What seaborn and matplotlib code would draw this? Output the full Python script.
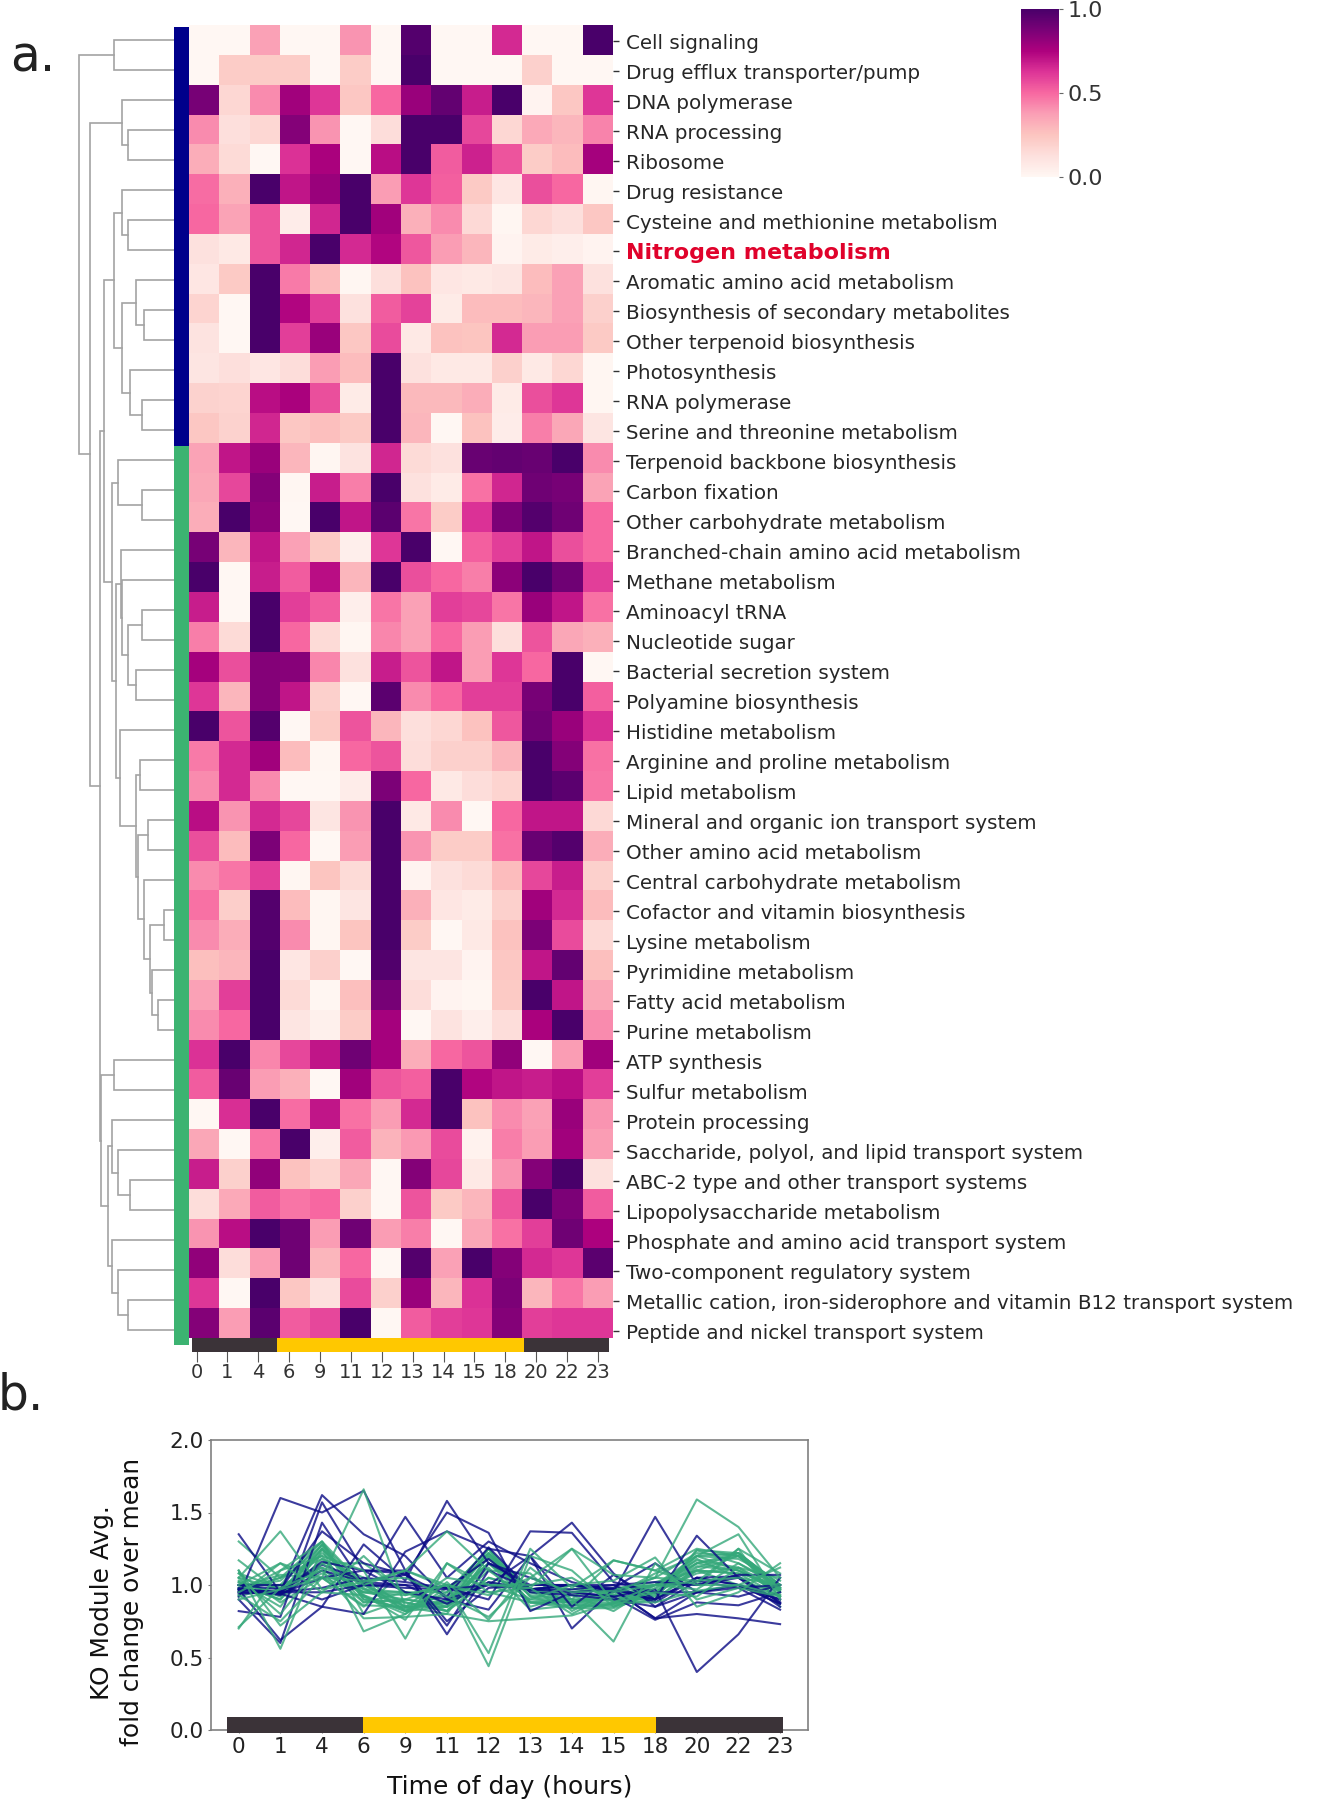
import numpy as np
import pandas as pd
import matplotlib
matplotlib.use("Agg")
import matplotlib.pyplot as plt
import seaborn as sns

# --- data ---
hours = ["0", "1", "4", "6", "9", "11", "12", "13", "14", "15", "18", "20", "22", "23"]

blue_modules = ["Cell signaling", "Drug efflux transporter/pump", "DNA polymerase", "RNA processing",
                "Ribosome", "Drug resistance", "Cysteine and methionine metabolism", "Nitrogen metabolism",
                "Aromatic amino acid metabolism", "Biosynthesis of secondary metabolites",
                "Other terpenoid biosynthesis", "Photosynthesis", "RNA polymerase",
                "Serine and threonine metabolism"]
green_modules = ["Terpenoid backbone biosynthesis", "Carbon fixation", "Other carbohydrate metabolism",
                 "Branched-chain amino acid metabolism", "Methane metabolism", "Aminoacyl tRNA",
                 "Nucleotide sugar", "Bacterial secretion system", "Polyamine biosynthesis",
                 "Histidine metabolism", "Arginine and proline metabolism", "Lipid metabolism",
                 "Mineral and organic ion transport system", "Other amino acid metabolism",
                 "Central carbohydrate metabolism", "Cofactor and vitamin biosynthesis", "Lysine metabolism",
                 "Pyrimidine metabolism", "Fatty acid metabolism", "Purine metabolism", "ATP synthesis",
                 "Sulfur metabolism", "Protein processing", "Saccharide, polyol, and lipid transport system",
                 "ABC-2 type and other transport systems", "Lipopolysaccharide metabolism",
                 "Phosphate and amino acid transport system", "Two-component regulatory system",
                 "Metallic cation, iron-siderophore and vitamin B12 transport system",
                 "Peptide and nickel transport system"]

heat_blue = [
    [0, 0, .37, 0, 0, .40, 0, .97, 0, 0, .65, 0, 0, 1],
    [0, .22, .22, .22, 0, .22, 0, 1, 0, 0, 0, .20, 0, 0],
    [.88, .17, .42, .78, .62, .24, .50, .80, .93, .68, 1, .02, .24, .62],
    [.42, .13, .17, .85, .40, 0, .14, 1, 1, .58, .17, .34, .30, .44],
    [.33, .15, 0, .63, .76, 0, .72, 1, .53, .67, .55, .22, .28, .77],
    [.49, .32, 1, .70, .80, 1, .38, .62, .52, .23, .09, .56, .50, .01],
    [.50, .36, .55, .06, .66, 1, .78, .32, .42, .16, .01, .17, .13, .24],
    [.12, .08, .55, .66, 1, .65, .74, .54, .38, .30, .02, .07, .05, .02],
    [.09, .23, 1, .46, .28, .01, .13, .26, .09, .08, .10, .28, .37, .12],
    [.18, 0, 1, .74, .60, .12, .53, .59, .07, .28, .28, .30, .37, .20],
    [.11, 0, 1, .60, .80, .24, .57, .08, .26, .25, .65, .38, .38, .23],
    [.10, .13, .09, .14, .38, .28, 1, .12, .08, .08, .20, .08, .17, .01],
    [.19, .18, .72, .76, .56, .07, 1, .29, .29, .33, .07, .56, .62, .01],
    [.24, .19, .66, .24, .27, .23, 1, .30, 0, .26, .06, .45, .35, .10],
]
heat_green = [
    [.36, .70, .80, .30, .01, .11, .66, .15, .12, .92, .93, .92, 1, .42],
    [.35, .58, .85, .01, .68, .45, 1, .12, .07, .48, .66, .90, .88, .36],
    [.33, 1, .83, 0, 1, .70, .95, .47, .22, .63, .87, .97, .90, .50],
    [.88, .30, .70, .37, .23, .05, .62, 1, 0, .52, .60, .70, .56, .50],
    [1, 0, .68, .53, .72, .30, 1, .56, .50, .45, .83, 1, .90, .60],
    [.68, 0, 1, .60, .53, .05, .47, .37, .60, .58, .47, .80, .70, .48],
    [.45, .15, 1, .50, .15, .01, .43, .37, .50, .38, .13, .55, .35, .32],
    [.77, .56, .85, .84, .43, .12, .68, .55, .70, .38, .62, .50, 1, 0],
    [.62, .30, .85, .70, .20, 0, .95, .42, .50, .60, .60, .88, 1, .52],
    [1, .55, .97, 0, .23, .55, .30, .13, .17, .26, .54, .90, .80, .64],
    [.46, .65, .78, .28, .01, .50, .55, .14, .20, .20, .30, 1, .85, .48],
    [.42, .65, .42, 0, 0, .06, .87, .50, .08, .14, .18, 1, .95, .47],
    [.72, .40, .65, .58, .10, .40, 1, .08, .42, 0, .50, .70, .70, .16],
    [.56, .28, .87, .50, 0, .38, 1, .40, .22, .22, .48, .92, .97, .33],
    [.42, .47, .60, .01, .25, .15, 1, .02, .12, .15, .28, .58, .68, .20],
    [.48, .21, .97, .28, .01, .10, 1, .32, .09, .07, .20, .78, .65, .28],
    [.42, .33, .97, .42, .01, .25, 1, .22, 0, .08, .26, .87, .57, .16],
    [.27, .30, 1, .09, .20, 0, .98, .10, .10, .02, .24, .70, .93, .27],
    [.37, .60, 1, .15, .01, .27, .88, .14, .02, .01, .23, 1, .70, .35],
    [.42, .50, 1, .10, .04, .22, .77, 0, .11, .05, .14, .76, 1, .42],
    [.63, 1, .43, .58, .70, .90, .77, .33, .50, .55, .82, 0, .38, .78],
    [.53, .92, .38, .32, 0, .78, .55, .52, 1, .74, .70, .68, .72, .60],
    [0, .64, 1, .49, .70, .48, .38, .65, 1, .26, .42, .37, .80, .40],
    [.35, 0, .47, 1, .05, .53, .31, .39, .57, .03, .45, .38, .78, .38],
    [.68, .20, .82, .26, .18, .35, 0, .85, .58, .08, .40, .85, 1, .12],
    [.14, .34, .53, .47, .50, .20, 0, .55, .23, .30, .55, 1, .87, .53],
    [.40, .72, 1, .90, .38, .90, .38, .45, 0, .35, .48, .60, .90, .75],
    [.82, .14, .38, .90, .30, .50, 0, .97, .37, 1, .85, .65, .62, .95],
    [.62, 0, 1, .24, .12, .57, .20, .80, .30, .63, .87, .30, .47, .38],
    [.85, .38, .95, .53, .58, 1, 0, .53, .60, .62, .85, .60, .62, .62],
]

# fold change lines, panel b
fold_blue = [
    [.97, .95, .98, 1.05, 1.02, .98, .90, 1.37, 1.36, 1.02, .95, .95, .98, 1.00],
    [.92, 1.60, 1.50, 1.65, 1.10, .75, .98, 1.00, 1.00, .97, .77, .80, .77, .73],
    [1.35, .95, 1.62, 1.35, 1.20, .90, 1.00, 1.20, 1.43, 1.08, .85, .95, .92, 1.00],
    [.82, .78, 1.57, 1.10, .95, .90, .83, 1.20, .70, .97, .90, 1.34, 1.05, .85],
    [.90, .60, 1.43, 1.00, 1.47, 1.05, 1.30, 1.15, 1.02, .95, 1.47, 1.00, 1.05, .88],
    [.97, .62, .85, 1.28, 1.03, 1.58, 1.15, 1.05, .95, .92, .97, .40, .66, 1.05],
    [1.00, .97, 1.37, 1.15, 1.07, 1.50, 1.36, .82, .95, .92, .76, .88, .86, .95],
    [.95, .94, .85, .80, 1.23, 1.37, 1.25, 1.20, .85, 1.07, .90, 1.05, 1.06, .88],
    [.96, .95, 1.16, 1.10, 1.08, .72, 1.15, 1.00, 1.00, .98, 1.15, .95, 1.00, .90],
    [.95, .94, 1.05, 1.10, 1.10, .66, 1.10, .97, 1.00, .97, .90, 1.05, 1.00, .87],
    [.94, .95, 1.14, 1.03, 1.07, .92, 1.26, .97, 1.00, 1.00, .88, 1.05, 1.00, .90],
    [1.00, 1.00, .90, 1.00, .98, .97, 1.00, .97, .97, 1.00, 1.02, 1.00, 1.07, 1.07],
    [.97, .95, .95, 1.00, 1.00, .98, 1.18, .95, .93, .90, .85, 1.03, .98, .83],
    [.98, .93, 1.10, 1.02, 1.00, .87, 1.02, .97, .95, .97, .77, .95, 1.00, .87],
]
fold_green = [
    [.92, 1.00, 1.10, .97, .85, .88, 1.15, .93, .90, 1.17, 1.10, 1.25, 1.20, .98],
    [.95, 1.05, 1.20, .88, .95, .95, 1.25, .92, .88, .97, 1.00, 1.20, 1.22, .97],
    [.93, 1.15, 1.05, .85, 1.10, .98, 1.18, .97, .88, .95, 1.05, 1.22, 1.20, .98],
    [1.17, .95, 1.08, .95, .90, .85, 1.10, 1.08, .82, .97, 1.02, 1.10, 1.08, 1.00],
    [1.08, .88, 1.05, .95, .95, .88, 1.15, .97, .93, .93, 1.08, 1.20, 1.18, 1.03],
    [1.02, .85, 1.25, .97, .95, .82, 1.05, .97, .97, .95, .95, 1.13, 1.10, .97],
    [1.00, .90, 1.28, 1.00, .88, .82, 1.02, .97, 1.00, .93, .90, 1.10, 1.00, .98],
    [1.05, .97, 1.15, 1.15, .95, .85, 1.05, .97, 1.00, .92, 1.00, 1.00, 1.25, .85],
    [1.00, .90, 1.18, 1.05, .85, .80, 1.20, .95, .95, .98, 1.00, 1.15, 1.22, 1.00],
    [1.30, 1.05, 1.30, .80, .90, 1.00, .95, .88, .88, .92, 1.00, 1.17, 1.12, 1.05],
    [.97, 1.05, 1.18, .92, .80, .98, 1.00, .90, .88, .88, .92, 1.24, 1.15, 1.00],
    [.98, 1.07, 1.05, .86, .85, .85, 1.15, .98, .88, .90, .90, 1.24, 1.22, 1.00],
    [1.08, .98, 1.12, 1.02, .82, .95, 1.25, .85, .93, .82, 1.00, 1.10, 1.08, .92],
    [1.02, .92, 1.22, 1.00, .85, .93, 1.22, .97, .90, .90, .97, 1.15, 1.20, .97],
    [1.00, 1.00, 1.12, .88, .90, .87, 1.22, .88, .90, .90, .95, 1.08, 1.12, .93],
    [1.03, .93, 1.25, .93, .82, .85, 1.25, .95, .87, .87, .93, 1.15, 1.10, .95],
    [1.00, .95, 1.25, .98, .83, .90, 1.22, .92, .84, .87, .95, 1.18, 1.05, .92],
    [.97, .95, 1.28, .90, .88, .82, 1.20, .88, .86, .85, .95, 1.10, 1.20, .95],
    [.98, 1.03, 1.27, .92, .82, .90, 1.15, .88, .84, .84, .94, 1.20, 1.10, .96],
    [1.00, 1.00, 1.30, .90, .84, .88, 1.12, .83, .86, .86, .90, 1.12, 1.22, 1.00],
    [1.05, 1.37, .97, 1.02, 1.10, 1.37, 1.10, .90, 1.00, 1.03, 1.19, .85, .95, 1.15],
    [1.00, 1.15, .95, .93, .76, 1.15, 1.00, .98, 1.25, 1.07, 1.05, 1.03, 1.05, 1.00],
    [.70, 1.10, 1.30, 1.00, 1.10, 1.00, .93, 1.05, 1.25, .88, .95, .92, 1.12, .97],
    [.93, .75, 1.05, 1.66, .85, 1.05, 1.00, 1.00, 1.05, .88, 1.00, .97, 1.15, .98],
    [1.05, .80, 1.15, .95, .93, 1.00, .44, 1.20, 1.10, .85, .98, 1.20, 1.35, .90],
    [.90, .97, 1.05, 1.03, 1.05, .92, .78, 1.05, .95, .96, 1.05, 1.59, 1.40, 1.05],
    [.95, 1.10, 1.20, 1.10, .63, 1.15, .95, .98, .80, .95, 1.00, 1.02, 1.25, 1.08],
    [1.10, .72, .95, 1.20, .93, 1.00, .53, 1.25, .98, 1.17, 1.10, 1.00, 1.00, 1.12],
    [1.10, .56, 1.25, .68, .80, 1.02, .76, 1.12, .90, .61, 1.15, .90, .98, .92],
    [.71, .98, 1.10, .77, .78, .80, .75, .77, .79, .88, .88, .96, 1.00, .93],
]

# dendrogram merges, scipy linkage style: left, right, height (leaves 0-43, then new nodes from 44)
merge_left = [0, 3, 2, 6, 5, 9, 8, 12, 11, 50, 48, 15, 14, 19, 21, 57, 18, 17, 24, 26, 29, 32, 31, 64, 28, 63,
              62, 23, 61, 56, 54, 34, 38, 37, 36, 42, 41, 40, 78, 75, 74, 46, 44]
merge_right = [1, 4, 45, 7, 47, 10, 49, 13, 51, 52, 53, 16, 55, 20, 22, 58, 59, 60, 25, 27, 30, 33, 65, 66, 67,
               68, 69, 70, 71, 72, 73, 35, 39, 76, 77, 43, 79, 80, 81, 82, 83, 84, 85]
merge_height = [170, 130, 148, 130, 148, 86, 108, 92, 125, 148, 170, 92, 158, 92, 108, 130, 147, 149, 98, 74,
                30, 47, 64, 70, 87, 103, 108, 153, 163, 175, 198, 170, 125, 158, 175, 130, 158, 175, 187, 205,
                210, 237, 267]

light_colors = ["#3b3338", "#ffc800", "#3b3338"]
heat_bar_edges = [.1, 2.9, 11.06, 13.86]
line_bar_edges = [-.27, 2.98, 10.03, 13.06]

# --- panel a ---
W, H = 1320, 1800


def box(x0, y0, x1, y1):
    # pixel box (from top left) to figure fractions
    return [x0 / W, 1 - y1 / H, (x1 - x0) / W, (y1 - y0) / H]


modules = blue_modules + green_modules
heat = pd.DataFrame(heat_blue + heat_green, index=modules, columns=hours)
row_colors = ["darkblue"] * len(blue_modules) + ["mediumseagreen"] * len(green_modules)

g = sns.clustermap(heat, row_cluster=False, col_cluster=False, row_colors=row_colors, cmap="RdPu",
                   vmin=0, vmax=1, figsize=(W / 100, H / 100), xticklabels=True, yticklabels=True)

ax_heat = g.ax_heatmap
ax_heat.set_position(box(189, 25, 613, 1338))
g.ax_row_colors.set_position(box(174, 27, 189, 1345))
g.ax_row_dendrogram.set_position(box(60, 25, 174.6, 1345))
g.cax.set_position(box(1021, 9, 1059, 177))

ax_heat.set_xlabel("")
ax_heat.set_ylabel("")
ax_heat.set_yticks(np.linspace(.55, 43.78, len(modules)))
ax_heat.set_yticklabels(modules, rotation=0, fontsize=14.3, color="#262626")
ax_heat.tick_params(axis="y", length=4, width=1, color="#333333", pad=5)
labels = ax_heat.get_yticklabels()
labels[7].set_color("#e0022b")
labels[7].set_fontweight("bold")
labels[7].set_fontsize(16)

ax_heat.set_xticks(np.linspace(.25, 13.5, len(hours)))
ax_heat.set_xticklabels(hours, rotation=0, fontsize=14, color="#333333")
ax_heat.tick_params(axis="x", length=17, width=.8, color="#555555", pad=1)

for i in range(3):
    ax_heat.barh(44.25, heat_bar_edges[i + 1] - heat_bar_edges[i], left=heat_bar_edges[i], height=.47,
                 color=light_colors[i], clip_on=False, zorder=5)
ax_heat.set_ylim(44, 0)
ax_heat.set_xlim(0, 14)

g.cax.tick_params(labelsize=16, length=3, color="#666666", labelcolor="#333333", pad=3)
g.cax.set_yticks([0, .5, 1])
g.cax.set_yticklabels(["0.0", "0.5", "1.0"])
for spine in g.cax.spines.values():
    spine.set_visible(False)

# dendrogram drawn from the merges
ax_den = g.ax_row_dendrogram
node_y = {i: i + .5 for i in range(len(modules))}
node_h = {i: 0 for i in range(len(modules))}
for k in range(len(merge_height)):
    a, b, h = merge_left[k], merge_right[k], merge_height[k]
    ax_den.plot([node_h[a], h, h, node_h[b]], [node_y[a], node_y[a], node_y[b], node_y[b]],
                color="#a3a3a3", lw=1.2, solid_joinstyle="miter")
    node_id = len(modules) + k
    node_y[node_id] = (node_y[a] + node_y[b]) / 2
    node_h[node_id] = h
ax_den.set_xlim(321, 0)
ax_den.set_ylim(44, 0)
ax_den.set_xticks([])
ax_den.set_yticks([])
ax_den.axis("off")

# --- panel b ---
ax_line = g.fig.add_axes(box(210.6, 1440, 808, 1730))
frames = []
for name, vals in zip(green_modules + blue_modules, fold_green + fold_blue):
    frames.append(pd.DataFrame({"module": name, "pos": np.arange(len(hours)), "fold": vals}))
long_df = pd.concat(frames)
palette = {m: "#35a87a" for m in green_modules}
palette.update({m: "#0a0a85" for m in blue_modules})
# the flat green band first, then blue, then the green outliers on top
line_order = green_modules[:20] + blue_modules + green_modules[20:]
sns.lineplot(data=long_df, x="pos", y="fold", hue="module", hue_order=line_order, palette=palette,
             estimator=None, errorbar=None, legend=False, lw=1.5, alpha=.8, ax=ax_line)

for i in range(3):
    ax_line.barh(.035, line_bar_edges[i + 1] - line_bar_edges[i], left=line_bar_edges[i], height=.11,
                 color=light_colors[i], clip_on=False, zorder=5)

ax_line.set_xlim(-.675, 13.67)
ax_line.set_ylim(0, 2)
ax_line.set_xticks(np.arange(len(hours)))
ax_line.set_xticklabels(hours, fontsize=15.5, color="#222222")
ax_line.set_yticks([0, .5, 1, 1.5, 2])
ax_line.set_yticklabels(["0.0", "0.5", "1.0", "1.5", "2.0"], fontsize=15.5, color="#222222")
ax_line.tick_params(length=2, color="#777777", pad=3)
for spine in ax_line.spines.values():
    spine.set_color("#808080")
    spine.set_linewidth(1.2)
ax_line.set_xlabel("Time of day (hours)", fontsize=18, color="#111111", labelpad=13)
ax_line.set_ylabel("KO Module Avg.\nfold change over mean", fontsize=17.9, color="#111111", linespacing=1.3)
ax_line.yaxis.set_label_coords(-.112, .44)

g.fig.text(10 / W, 1 - 72 / H, "a.", fontsize=35, color="#222222")
g.fig.text(-2 / W, 1 - 1410 / H, "b.", fontsize=35, color="#222222")

g.fig.savefig("out.png", dpi=100)
